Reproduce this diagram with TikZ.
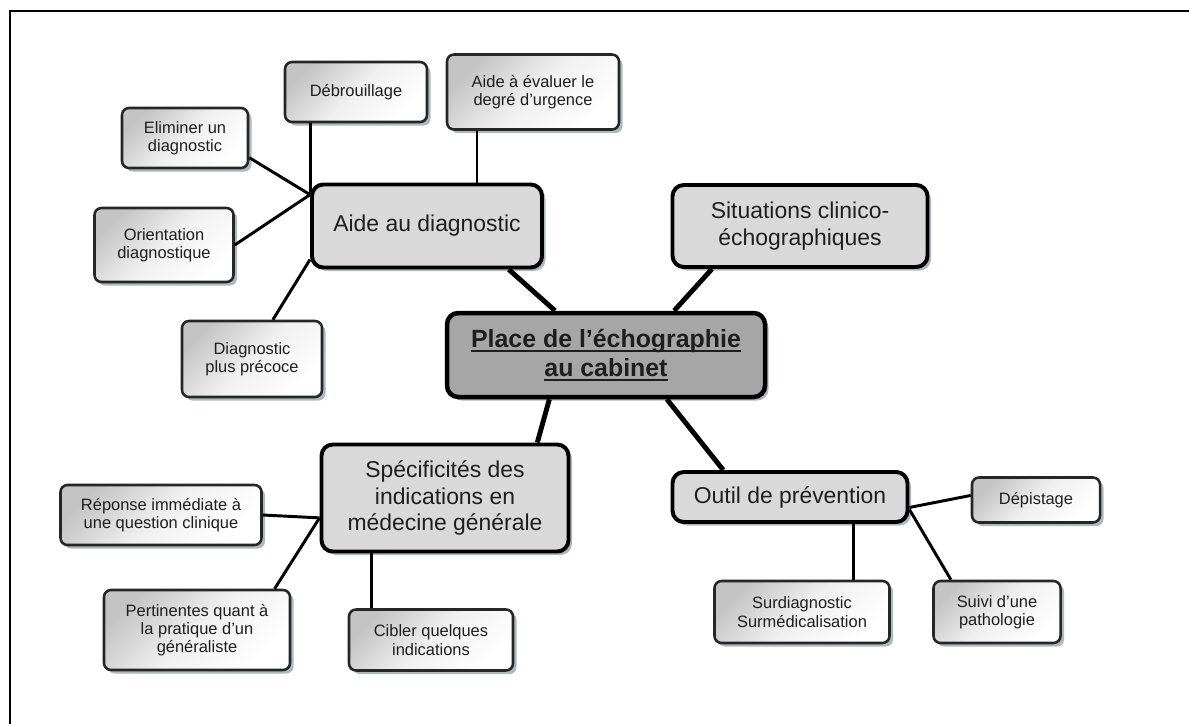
\documentclass[tikz,border=0pt]{standalone}
\usepackage{fontspec}
\setmainfont{Liberation Sans}
\usetikzlibrary{shadows}
\definecolor{shadowc}{RGB}{150,168,176}
\definecolor{midgray}{RGB}{217,217,217}
\definecolor{maingray}{RGB}{166,166,166}
\definecolor{leafgray}{RGB}{196,196,196}
\definecolor{leafmid}{RGB}{240,240,240}
\definecolor{ink}{RGB}{30,30,30}
\newlength{\soulw}
\newcommand{\souligne}[1]{\settowidth{\soulw}{#1}\rlap{#1}\rule[-3.2pt]{\soulw}{1.3pt}}
\newlength{\pxl}
\setlength{\pxl}{0.025cm}

\begin{document}
\begin{tikzpicture}[x=0.025cm,y=-0.025cm,
	leaf/.style={draw=black!85,line width=1.8pt,rounded corners=5pt,inner sep=0pt,align=center,text=ink,
		font=\fontsize{11.7}{13}\selectfont,top color=white,bottom color=leafgray,middle color=leafmid,shading angle=-135,
		drop shadow={shadow xshift=2.5pt,shadow yshift=-2.5pt,fill=shadowc,opacity=0.8}},
	branch/.style={draw=black,line width=2.8pt,rounded corners=8pt,fill=midgray,inner sep=0pt,align=center,text=ink,
		font=\fontsize{16.3}{19}\selectfont,
		drop shadow={shadow xshift=2.5pt,shadow yshift=-2.5pt,fill=shadowc,opacity=0.8}},
	hub/.style={branch,fill=maingray,line width=3.2pt,font=\bfseries\fontsize{17.7}{20.8}\selectfont},
	twig/.style={line width=2.1pt},
	limb/.style={line width=3.5pt}]
	\useasboundingbox (0,0) rectangle (1189,724);
	\draw[line width=1.8pt] (10,724) -- (10,11) -- (1189,11);
	% centre et branches
	\node[hub,minimum width=318\pxl,minimum height=84\pxl] (place) at (606,355) {\souligne{Place de l’échographie}\\\souligne{au cabinet}};
	\node[branch,minimum width=230\pxl,minimum height=83\pxl] (aide) at (427,226) {Aide au diagnostic};
	\node[branch,minimum width=255\pxl,minimum height=82\pxl] (situ) at (800,226) {Situations clinico-\\échographiques};
	\node[branch,minimum width=247\pxl,minimum height=107\pxl] (spec) at (445,498) {Spécificités des\\indications en\\médecine générale};
	\node[branch,minimum width=235\pxl,minimum height=50\pxl] (outil) at (790,497) {Outil de prévention};
	% feuilles
	\node[leaf,minimum width=142\pxl,minimum height=60\pxl] (debr) at (356,92) {Débrouillage};
	\node[leaf,minimum width=172\pxl,minimum height=75\pxl] (urg) at (533,92) {Aide à évaluer le\\degré d’urgence};
	\node[leaf,minimum width=126\pxl,minimum height=60\pxl] (elim) at (185,138) {Eliminer un\\diagnostic};
	\node[leaf,minimum width=139\pxl,minimum height=74\pxl] (orient) at (164,245) {Orientation\\diagnostique};
	\node[leaf,minimum width=140\pxl,minimum height=76\pxl] (precoce) at (252,359) {Diagnostic\\plus précoce};
	\node[leaf,minimum width=201\pxl,minimum height=60\pxl] (reponse) at (161,515) {Réponse immédiate à\\une question clinique};
	\node[leaf,minimum width=186\pxl,minimum height=80\pxl] (pertin) at (197,630) {Pertinentes quant à\\la pratique d'un\\généraliste};
	\node[leaf,minimum width=164\pxl,minimum height=61\pxl] (cibler) at (431,640) {Cibler quelques\\indications};
	\node[leaf,minimum width=128\pxl,minimum height=45\pxl] (depist) at (1036,500) {Dépistage};
	\node[leaf,minimum width=175\pxl,minimum height=62\pxl] (surdiag) at (802,612) {Surdiagnostic\\Surmédicalisation};
	\node[leaf,minimum width=127\pxl,minimum height=62\pxl] (suivi) at (997,612) {Suivi d'une\\pathologie};
	% liens
	\coordinate (hubA) at (aide.165);
	\coordinate (hubS) at (spec.189);
	\draw[limb] (aide.-28) -- (place.139);
	\draw[limb] (situ.206) -- (place.33);
	\draw[limb] (place.218) -- (spec.31);
	\draw[limb] (place.-36) -- (outil.158);
	\draw[twig] (debr.south -| hubA) -- (hubA);
	\draw[twig] (elim.-17) -- (hubA);
	\draw[twig] (orient.east) -- (hubA);
	\draw[twig] (precoce.62) -- (aide.196);
	\draw[twig] (aide.41) -- (aide.41 |- urg.south);
	\draw[twig] (reponse.east) -- (hubS);
	\draw[twig] (pertin.28) -- (hubS);
	\draw[twig] (cibler.152) -- (cibler.152 |- spec.south);
	\draw[twig] (outil.-5) -- (depist.176);
	\draw[twig] (outil.-6) -- (suivi.145);
	\draw[twig] (surdiag.32) -- (surdiag.32 |- outil.south);
\end{tikzpicture}
\end{document}
